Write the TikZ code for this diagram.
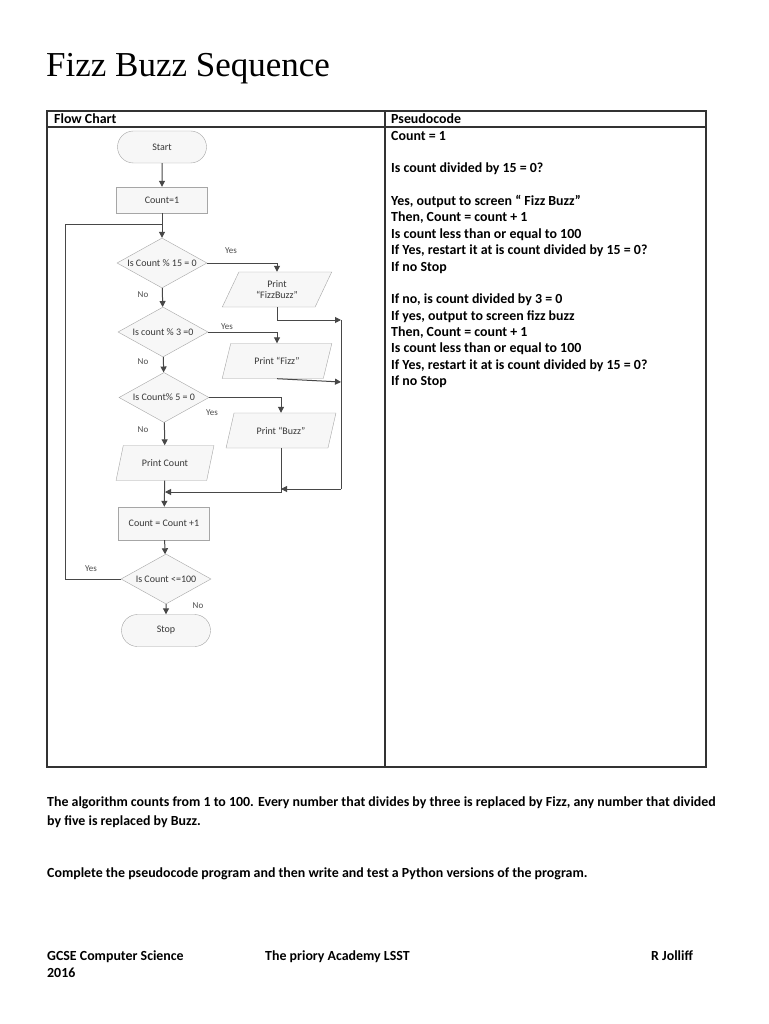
\documentclass[tikz,border=0pt]{standalone}
\usepackage{fontspec}
\setmainfont{Carlito}
\newfontfamily\titlefont{Liberation Serif}
\usetikzlibrary{shapes.geometric,shapes.misc,arrows.meta}

\tikzset{
  box/.style={draw=gray!70, fill=gray!6, font=\fontsize{10}{11.5}\selectfont, text=black!78, align=center, inner sep=1pt},
  term/.style={box, rounded rectangle, minimum width=91pt, minimum height=32pt},
  proc/.style={box, rectangle, minimum width=91pt},
  decide/.style={box, diamond, aspect=1.8, minimum width=90pt, minimum height=50pt, inner xsep=-1.5pt, inner ysep=0pt},
  io/.style={box, trapezium, trapezium left angle=65, trapezium right angle=115, trapezium stretches, minimum width=110pt, minimum height=35pt},
  flow/.style={draw=black!72, line width=1pt},
  arr/.style={flow, -{Triangle[length=6pt,width=6pt]}},
  lbl/.style={font=\fontsize{9}{10}\selectfont, text=black!70},
  txt/.style={anchor=base west, inner sep=0pt, font=\fontsize{13.9}{16}\selectfont\bfseries},
}

\begin{document}
\begin{tikzpicture}[x=1pt, y=-1pt]
  \useasboundingbox (0,0) rectangle (768,1024);
  \fill[white] (0,0) rectangle (768,1024);

  % title and table
  \node[anchor=base west, inner sep=0pt, font=\titlefont\fontsize{35}{40}\selectfont] (title) at (46,77) {Fizz Buzz Sequence};
  \draw[line width=1.1pt, black!80] (47,111) rectangle (706,767);
  \draw[line width=1.1pt, black!80] (47,127) -- (706,127);
  \draw[line width=1.1pt, black!80] (385,111) -- (385,767);
  \node[txt] (hflow) at (54,123.5) {Flow Chart};
  \node[txt] (hpseudo) at (391,123.5) {Pseudocode};

  % pseudocode
  \node[txt] (ps0) at (391,140.5) {Count = 1};
  \node[txt] (ps2) at (391,173) {Is count divided by 15 = 0?};
  \node[txt] (ps4) at (391,205.5) {Yes, output to screen “ Fizz Buzz”};
  \node[txt] (ps5) at (391,222) {Then, Count = count + 1};
  \node[txt] (ps6) at (391,238) {Is count less than or equal to 100};
  \node[txt] (ps7) at (391,254.5) {If Yes, restart it at is count divided by 15 = 0?};
  \node[txt] (ps8) at (391,271) {If no Stop};
  \node[txt] (ps10) at (391,303.5) {If no, is count divided by 3 = 0};
  \node[txt] (ps11) at (391,320) {If yes, output to screen fizz buzz};
  \node[txt] (ps12) at (391,336) {Then, Count = count + 1};
  \node[txt] (ps13) at (391,352.5) {Is count less than or equal to 100};
  \node[txt] (ps14) at (391,369) {If Yes, restart it at is count divided by 15 = 0?};
  \node[txt] (ps15) at (391,385.5) {If no Stop};

  % flow chart
  \node[term] (start) at (162,147) {Start};
  \node[proc, minimum height=26pt] (init) at (162,200) {Count=1};
  \node[decide] (d15) at (162,263) {Is Count \% 15 = 0};
  \node[io] (pFB) at (277,289.5) {Print\\“FizzBuzz”};
  \node[decide] (d3) at (163,332) {Is count \% 3 =0};
  \node[io] (pFizz) at (277,361) {Print “Fizz”};
  \node[decide] (d5) at (164,397.5) {Is Count\% 5 = 0};
  \node[io] (pBuzz) at (281,430.5) {Print “Buzz”};
  \node[io, minimum width=98pt] (pCount) at (165,463) {Print Count};
  \node[proc, minimum height=33pt] (inc) at (164,523.5) {Count = Count +1};
  \node[decide] (d100) at (166,579) {Is Count <=100};
  \node[term] (stop) at (166,630.5) {Stop};

  \coordinate (loopin) at (162,225);
  \coordinate (railtop) at (341,320);
  \coordinate (railbot) at (341,489);
  \coordinate (fizzout) at (341,382);
  \coordinate (mergein) at (165,492);

  \draw[arr] (start) -- (init);
  \draw[arr] (init) -- (d15);
  \draw[flow] (d100.west) -- ++(-55,0) |- (loopin);
  \draw[arr] (d15.east) -| (pFB.north);
  \draw[arr] (d15) -- (d3);
  \draw[arr] (d3.east) -| (pFizz.north);
  \draw[arr] (d3) -- (d5);
  \draw[arr] (d5.east) -| (pBuzz.north);
  \draw[arr] (d5) -- (pCount);
  \draw[arr] (pFB.south) |- (railtop);
  \draw[arr] (pFizz.south) -- (fizzout);
  \draw[flow] (railtop) -- (railbot);
  \draw[arr] (railbot) -- (pBuzz.south |- railbot);
  \draw[arr] (pBuzz.south) |- (mergein);
  \draw[arr] (pCount) -- (inc);
  \draw[arr] (inc) -- (d100);
  \draw[arr] (d100) -- (stop);

  \node[lbl] (yes15) at (231,251) {Yes};
  \node[lbl] (no15) at (143,295) {No};
  \node[lbl] (yes3) at (227,327) {Yes};
  \node[lbl] (no3) at (143,362) {No};
  \node[lbl] (yes5) at (212,413) {Yes};
  \node[lbl] (no5) at (143,430) {No};
  \node[lbl] (yes100) at (91,569) {Yes};
  \node[lbl] (no100) at (198,606) {No};

  % text below the table
  \node[txt] (para1) at (47,806.5) {The algorithm counts from 1 to 100. Every number that divides by three is replaced by Fizz, any number that divided};
  \node[txt] (para2) at (47,825.5) {by five is replaced by Buzz.};
  \node[txt] (task) at (47,877.5) {Complete the pseudocode program and then write and test a Python versions of the program.};

  % footer
  \node[txt] (course) at (47,960.5) {GCSE Computer Science};
  \node[txt] (year) at (47,977.5) {2016};
  \node[txt] (school) at (265,960.5) {The priory Academy LSST};
  \node[txt] (teacher) at (651,960.5) {R Jolliff};
\end{tikzpicture}
\end{document}
